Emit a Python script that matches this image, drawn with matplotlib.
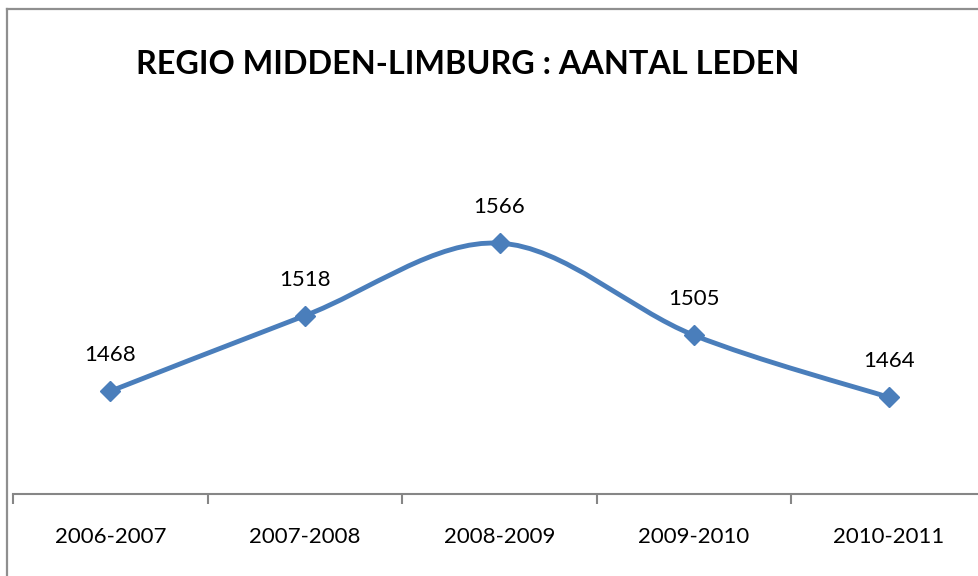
import matplotlib
matplotlib.use("Agg")
import matplotlib.pyplot as plt
from matplotlib.path import Path
from matplotlib.patches import PathPatch
from matplotlib.lines import Line2D
import numpy as np

categories = ["2006-2007", "2007-2008", "2008-2009", "2009-2010", "2010-2011"]
values = [1468, 1518, 1566, 1505, 1464]
title = "REGIO MIDDEN-LIMBURG : AANTAL LEDEN"

W, H = 979, 576
fig = plt.figure(figsize=(W / 100, H / 100), dpi=100)
plt.rcParams['font.family'] = ['Lato', 'DejaVu Sans']

# chart frame (cropped at right/bottom)
fc = "#8f8f8f"
fig.add_artist(Line2D([7.5 / W, 7.5 / W], [0, 1 - 9 / H], transform=fig.transFigure, color=fc, lw=1.6))
fig.add_artist(Line2D([7.5 / W, 1.0], [1 - 9 / H, 1 - 9 / H], transform=fig.transFigure, color=fc, lw=1.6))

ax = fig.add_axes([13 / W, (H - 494) / H, 973 / W, (494 - 40.6) / H])
ax.set_xlim(-0.5, 4.5)
ax.set_ylim(1400, 1700)
ax.patch.set_alpha(0)

x = np.arange(len(values), dtype=float)
y = np.array(values, dtype=float)

# Excel-style smoothed line (Bezier through the points)
verts = [(x[0], y[0])]
codes = [Path.MOVETO]
n = len(x)
for i in range(n - 1):
    p0 = np.array([x[max(i - 1, 0)], y[max(i - 1, 0)]])
    p1 = np.array([x[i], y[i]])
    p2 = np.array([x[i + 1], y[i + 1]])
    p3 = np.array([x[min(i + 2, n - 1)], y[min(i + 2, n - 1)]])
    c1 = p1 + (p2 - p0) / 6.0
    c2 = p2 - (p3 - p1) / 6.0
    verts += [tuple(c1), tuple(c2), tuple(p2)]
    codes += [Path.CURVE4] * 3
color = "#4a7ebb"
ax.add_patch(PathPatch(Path(verts, codes), facecolor="none", edgecolor=color, lw=3.5,
                       capstyle="round", joinstyle="round", zorder=2))
ax.plot(x, y, linestyle="none", marker="D", markersize=10, color=color, zorder=3)

for xi, yi in zip(x, y):
    ax.annotate(f"{int(yi)}", (xi, yi), xytext=(0, 26), textcoords="offset points",
                ha="center", va="center", fontsize=16, color="black")

for s in ["left", "right", "top"]:
    ax.spines[s].set_visible(False)
ax.spines["bottom"].set_color("#868686")
ax.spines["bottom"].set_linewidth(1.5)
ax.set_yticks([])
ax.set_xticks(x)
ax.set_xticklabels(categories, fontsize=16)
ax.set_xticks(np.arange(-0.5, 5.0, 1.0), minor=True)
ax.tick_params(axis="x", which="major", length=0, pad=24)
ax.tick_params(axis="x", which="minor", length=7, width=1.5, color="#868686", direction="out")

fig.text(468 / W, 1 - 64 / H, title, ha="center", va="center", fontsize=23.3, fontweight="bold")

fig.savefig("out.png", dpi=100)
